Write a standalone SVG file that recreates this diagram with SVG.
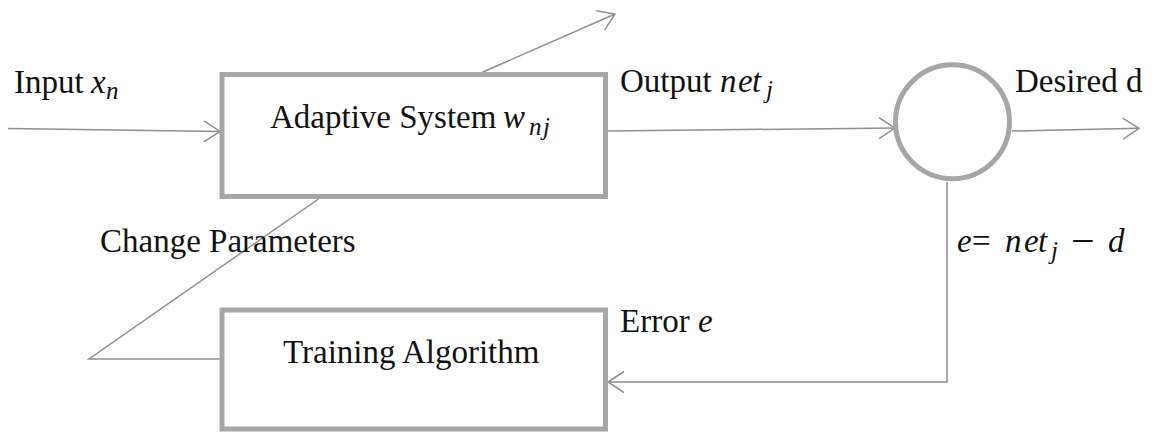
<svg xmlns="http://www.w3.org/2000/svg" width="1159" height="432" viewBox="0 0 1159 432">
<style>
.box{fill:#fff;stroke:#a6a6a6;stroke-width:5}
.con{fill:none;stroke:#8f8f8f;stroke-width:1.5}
.t{font-family:"Liberation Serif","Times New Roman",serif;font-size:33px;fill:#111}
.m{font-family:"Liberation Serif","Times New Roman",serif;font-style:italic;font-size:33px;fill:#111}
.s{font-family:"Liberation Serif","Times New Roman",serif;font-style:italic;font-size:25px;fill:#111}
</style>
<defs>
<marker id="arr" markerUnits="userSpaceOnUse" viewBox="-20 -13 22 26" markerWidth="22" markerHeight="26" refX="0" refY="0" orient="auto">
<path d="M-16,-10.5 L0,0 L-16,10.5" fill="none" stroke="#8f8f8f" stroke-width="1.5"/>
</marker>
</defs>
<rect width="1159" height="432" fill="#fff"/>
<g id="connectors">
<path class="con" d="M8,128.5 L220,131.5" marker-end="url(#arr)"/>
<path class="con" d="M608,131 L895,128" marker-end="url(#arr)"/>
<path class="con" d="M1012,131 L1139,128.3" marker-end="url(#arr)"/>
<path class="con" d="M947,182 L947,382 L608,382" marker-end="url(#arr)"/>
<path class="con" d="M222,359 L89,359 L317,200 L483,72 L615,14" marker-end="url(#arr)"/>
</g>
<g id="adaptive-system">
<rect class="box" x="222" y="74.5" width="383.5" height="122"/>
<text class="t" x="270" y="128">Adaptive System</text>
<text class="m" x="503" y="128">w</text>
<text class="s" x="529 543" y="135">nj</text>
</g>
<g id="summing-junction">
<circle cx="952.5" cy="121.7" r="57" fill="#fff" stroke="#a6a6a6" stroke-width="5"/>
</g>
<g id="training-algorithm">
<rect class="box" x="222" y="310" width="383.5" height="119"/>
<text class="t" x="283" y="363">Training Algorithm</text>
</g>
<g id="labels">
<text class="t" x="14" y="93">Input</text>
<text class="m" x="91" y="93">x</text>
<text class="s" x="106" y="99">n</text>
<text class="t" x="620" y="92">Output</text>
<text class="m" x="720 738 752" y="92">net</text>
<text class="s" x="766" y="98">j</text>
<text class="t" x="1015" y="92">Desired d</text>
<text class="t" x="100" y="252">Change Parameters</text>
<text class="t" x="620" y="332">Error</text>
<text class="m" x="698" y="332">e</text>
<text class="m" x="957" y="252">e</text>
<text class="t" x="972" y="252">=</text>
<text class="m" x="1005 1024 1038" y="252">net</text>
<text class="s" x="1051" y="259">j</text>
<text class="t" x="1071" y="255" style="font-size:42px">−</text>
<text class="m" x="1108" y="252">d</text>
</g>
</svg>
